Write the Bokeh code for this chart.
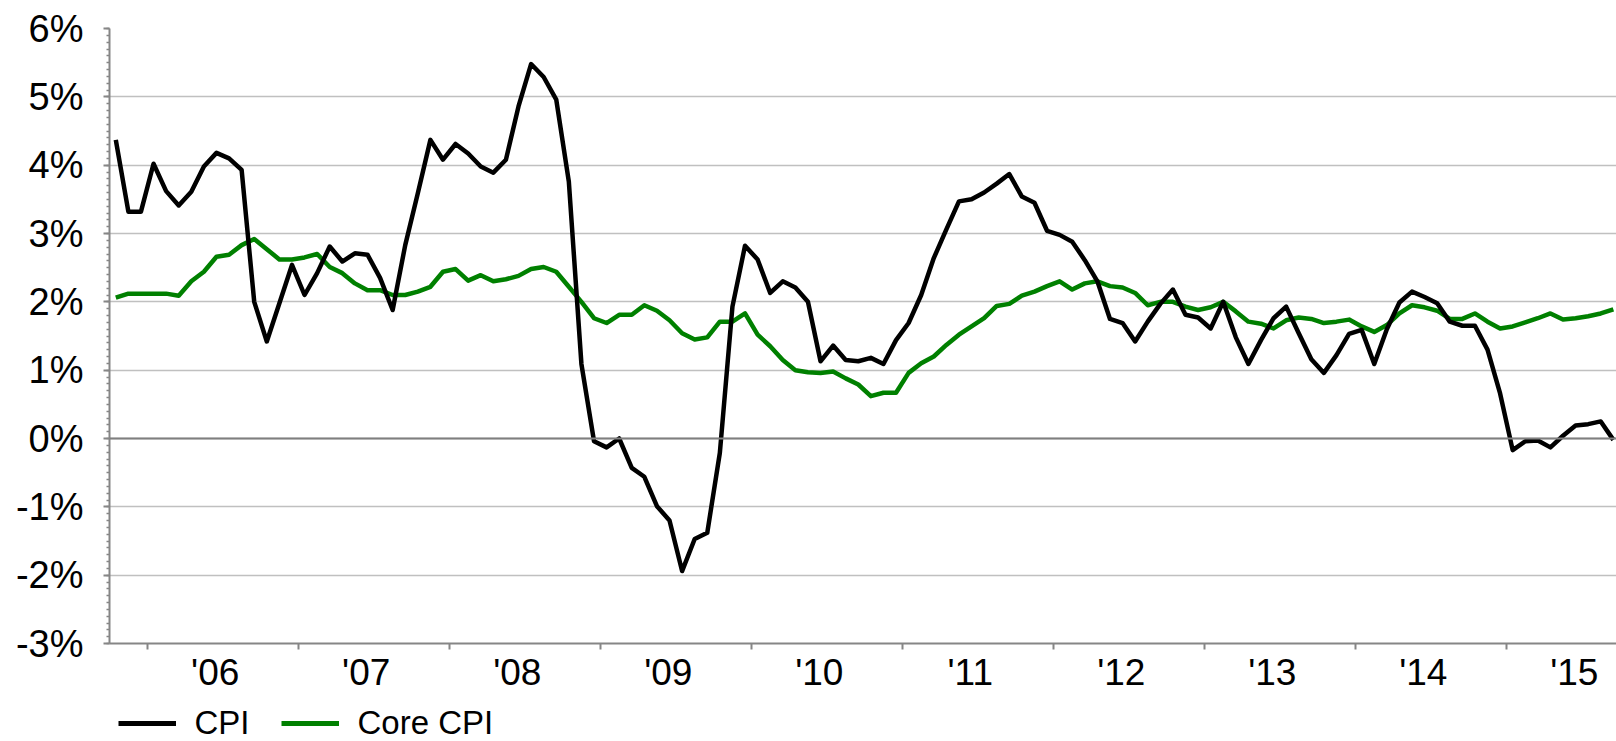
from bokeh.plotting import figure
from bokeh.layouts import column
from bokeh.models import FixedTicker, Span, Legend, LegendItem, Range1d, CustomJSTickFormatter
from bokeh.embed import file_html
from bokeh.resources import INLINE

# Monthly data, October 2005 .. September 2015 (year-over-year %)
first_month = "2005-10"
year_labels = ["'06", "'07", "'08", "'09", "'10", "'11", "'12", "'13", "'14", "'15"]

cpi = [4.37, 3.32, 3.32, 4.02, 3.62, 3.41, 3.61, 3.98, 4.18, 4.10,
       3.93, 2.00, 1.42, 1.98, 2.54, 2.10, 2.42, 2.81, 2.59, 2.71,
       2.69, 2.35, 1.88, 2.83, 3.59, 4.37, 4.08, 4.31, 4.17, 3.98,
       3.89, 4.08, 4.86, 5.48, 5.29, 4.96, 3.76, 1.09, -0.04, -0.13,
       0.00, -0.43, -0.56, -0.99, -1.20, -1.94, -1.47, -1.38, -0.21, 1.93,
       2.82, 2.62, 2.13, 2.30, 2.21, 2.00, 1.13, 1.36, 1.15, 1.13,
       1.18, 1.09, 1.44, 1.69, 2.10, 2.64, 3.06, 3.47, 3.50, 3.60,
       3.73, 3.87, 3.54, 3.45, 3.04, 2.98, 2.88, 2.61, 2.30, 1.75,
       1.69, 1.42, 1.71, 1.97, 2.18, 1.81, 1.77, 1.61, 2.00, 1.48,
       1.09, 1.44, 1.76, 1.93, 1.54, 1.16, 0.96, 1.22, 1.53, 1.59,
       1.09, 1.60, 1.99, 2.15, 2.07, 1.98, 1.71, 1.65, 1.65, 1.30,
       0.66, -0.17, -0.04, -0.03, -0.13, 0.04, 0.19, 0.21, 0.25, -0.02]

core_cpi = [2.06, 2.12, 2.12, 2.12, 2.12, 2.09, 2.30, 2.44, 2.66, 2.69,
            2.83, 2.92, 2.77, 2.62, 2.62, 2.65, 2.70, 2.51, 2.42, 2.27,
            2.17, 2.17, 2.10, 2.10, 2.15, 2.22, 2.44, 2.48, 2.31, 2.39,
            2.30, 2.33, 2.38, 2.48, 2.51, 2.44, 2.22, 2.00, 1.76, 1.69,
            1.81, 1.81, 1.95, 1.87, 1.73, 1.54, 1.45, 1.48, 1.71, 1.71,
            1.83, 1.52, 1.35, 1.15, 1.00, 0.97, 0.96, 0.98, 0.88, 0.79,
            0.62, 0.67, 0.67, 0.96, 1.10, 1.20, 1.37, 1.52, 1.64, 1.76,
            1.94, 1.97, 2.09, 2.15, 2.23, 2.30, 2.18, 2.27, 2.30, 2.23,
            2.21, 2.13, 1.95, 2.00, 2.00, 1.93, 1.88, 1.92, 2.00, 1.86,
            1.71, 1.68, 1.61, 1.73, 1.77, 1.75, 1.69, 1.71, 1.74, 1.64,
            1.56, 1.66, 1.83, 1.95, 1.92, 1.87, 1.75, 1.75, 1.83, 1.71,
            1.61, 1.64, 1.70, 1.76, 1.83, 1.74, 1.76, 1.79, 1.83, 1.89]

series_names = ["CPI", "Core CPI"]
series_colors = ["black", "#008000"]
y_ticks = [-3, -2, -1, 0, 1, 2, 3, 4, 5, 6]

months = list(range(len(cpi)))

FONT = "Liberation Sans"
GRID = "#c0c0c0"
AXIS = "#868686"
W = 1616
H_MAIN = 700
H_LEG = 41

p = figure(width=W, height=H_MAIN, output_backend="svg", toolbar_location=None,
           x_range=Range1d(-0.5, 119.25), y_range=Range1d(-3, 6),
           min_border_left=109, min_border_right=0, min_border_top=28,
           min_border_bottom=H_MAIN - 643, background_fill_color="white",
           border_fill_color="white")
p.outline_line_color = None
p.xgrid.visible = False
p.ygrid.grid_line_color = GRID
p.ygrid.grid_line_width = 1.5

# y axis
minor_y = [y_ticks[0] + 0.1 * k for k in range(int((y_ticks[-1] - y_ticks[0]) * 10) + 1)]
p.yaxis.ticker = FixedTicker(ticks=y_ticks, minor_ticks=minor_y)
p.yaxis.formatter = CustomJSTickFormatter(code="return tick.toFixed(0) + '%';")
p.yaxis.axis_line_color = AXIS
p.yaxis.axis_line_width = 2
p.yaxis.major_tick_line_color = AXIS
p.yaxis.major_tick_line_width = 2
p.yaxis.major_tick_out = 6
p.yaxis.major_tick_in = 0
p.yaxis.minor_tick_line_color = AXIS
p.yaxis.minor_tick_line_width = 1.5
p.yaxis.minor_tick_out = 3
p.yaxis.minor_tick_in = 0
p.yaxis.major_label_text_font = FONT
p.yaxis.major_label_text_font_size = "38px"
p.yaxis.major_label_text_color = "black"
p.yaxis.major_label_standoff = 20

# x axis: tick marks at year boundaries, labels in the middle of each year
first_boundary = 2.5
boundaries = [first_boundary + 12 * k for k in range(len(year_labels))]
label_pos = [b + 5.4 for b in boundaries]
p.xaxis.ticker = FixedTicker(ticks=label_pos, minor_ticks=boundaries)
p.xaxis.formatter = CustomJSTickFormatter(
    args=dict(labels=year_labels, b0=label_pos[0]),
    code="const i = Math.round((tick - b0) / 12); return labels[i];")
p.xaxis.axis_line_color = AXIS
p.xaxis.axis_line_width = 2
p.xaxis.major_tick_line_color = None
p.xaxis.major_tick_out = 0
p.xaxis.major_tick_in = 0
p.xaxis.minor_tick_line_color = AXIS
p.xaxis.minor_tick_line_width = 2
p.xaxis.minor_tick_out = 6
p.xaxis.minor_tick_in = 0
p.xaxis.major_label_text_font = FONT
p.xaxis.major_label_text_font_size = "37px"
p.xaxis.major_label_text_color = "black"
p.xaxis.major_label_standoff = 2

# zero line
p.add_layout(Span(location=0, dimension="width", line_color="#7f7f7f", line_width=2))

p.line(months, core_cpi, line_color=series_colors[1], line_width=4.5, line_join="round")
p.line(months, cpi, line_color=series_colors[0], line_width=4.5, line_join="round")

# legend strip below the chart (its frame is aligned with the chart's frame;
# the series are plotted there outside the visible range only to provide swatches)
leg = figure(width=W, height=H_LEG, output_backend="svg", toolbar_location=None,
             x_range=Range1d(-0.5, 119.25), y_range=Range1d(100, 101),
             x_axis_type=None, y_axis_type=None,
             min_border_left=0, min_border_right=0, min_border_top=0,
             min_border_bottom=0, background_fill_color="white",
             border_fill_color="white")
leg.outline_line_color = None
swatches = [leg.line(months, vals, line_color=c, line_width=5)
            for vals, c in zip([cpi, core_cpi], series_colors)]
legend = Legend(items=[LegendItem(label=n, renderers=[r]) for n, r in zip(series_names, swatches)],
                orientation="horizontal", location=(8.5, -1),
                label_text_font=FONT, label_text_font_size="33px",
                label_text_color="black", glyph_width=58, glyph_height=30,
                label_standoff=19, spacing=31, padding=0, margin=0,
                border_line_color=None, background_fill_alpha=0)
leg.add_layout(legend, "center")

layout = column(p, leg, spacing=0)
open("out.html", "w").write(file_html(layout, INLINE))
